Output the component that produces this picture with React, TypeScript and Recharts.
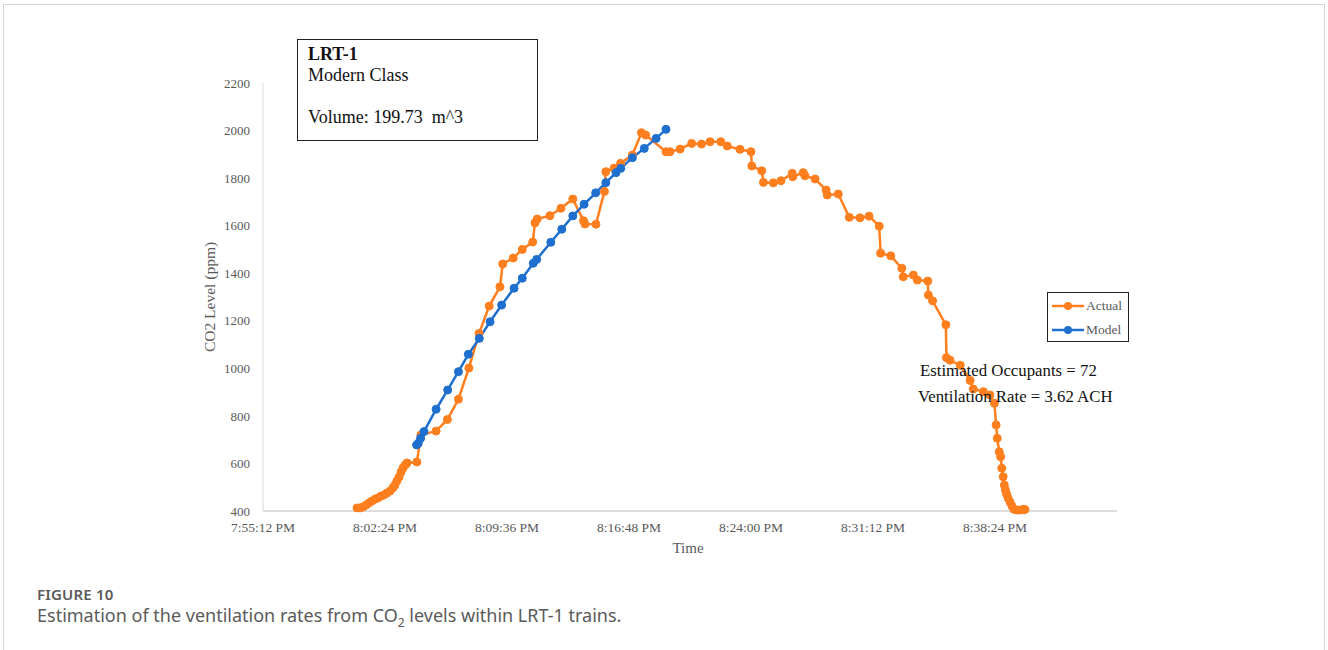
import { LineChart, Line, XAxis, YAxis } from "recharts";

// clock times (24h)
const actualTimes = [
  "20:00:45", "20:00:56", "20:01:06", "20:01:17", "20:01:27", "20:01:38", "20:01:49", "20:01:59",
  "20:02:10", "20:02:20", "20:02:31", "20:02:42", "20:02:52", "20:02:59", "20:03:06", "20:03:14",
  "20:03:21", "20:03:28", "20:03:35", "20:03:42", "20:04:17", "20:04:31", "20:05:25", "20:06:05",
  "20:06:44", "20:07:21", "20:07:57", "20:08:33", "20:09:11", "20:09:21", "20:09:58", "20:10:30",
  "20:11:07", "20:11:15", "20:11:23", "20:12:08", "20:12:47", "20:13:29", "20:14:07", "20:14:12",
  "20:14:51", "20:15:21", "20:15:26", "20:15:55", "20:16:18", "20:17:00", "20:17:32", "20:17:47",
  "20:18:59", "20:19:13", "20:19:49", "20:20:30", "20:21:05", "20:21:35", "20:22:13", "20:22:36",
  "20:23:21", "20:24:00", "20:24:03", "20:24:38", "20:24:44", "20:25:19", "20:25:46", "20:26:26",
  "20:26:28", "20:27:05", "20:27:11", "20:27:47", "20:28:26", "20:28:30", "20:29:09", "20:29:48",
  "20:30:26", "20:30:58", "20:31:34", "20:31:39", "20:32:15", "20:32:54", "20:32:59", "20:33:35",
  "20:33:49", "20:34:26", "20:34:28", "20:34:43", "20:35:30", "20:35:32", "20:35:45", "20:36:21",
  "20:36:56", "20:37:07", "20:37:43", "20:38:06", "20:38:22", "20:38:28", "20:38:32", "20:38:39",
  "20:38:44", "20:38:48", "20:38:53", "20:38:57", "20:39:01", "20:39:05", "20:39:10", "20:39:17",
  "20:39:24", "20:39:31", "20:39:42", "20:39:53", "20:40:03", "20:40:10",
];
const actualCO2 = [
  413, 413, 417, 425, 434, 442, 450, 455, 463, 467, 476, 484, 497, 509, 526, 543,
  564, 581, 593, 602, 606, 720, 736, 785, 870, 1001, 1147, 1262, 1343, 1439, 1464, 1500,
  1531, 1612, 1628, 1642, 1673, 1712, 1621, 1607, 1606, 1744, 1827, 1842, 1862, 1897, 1991, 1981,
  1911, 1911, 1922, 1946, 1943, 1953, 1953, 1935, 1921, 1911, 1851, 1831, 1782, 1780, 1789, 1820,
  1806, 1823, 1810, 1796, 1750, 1729, 1733, 1635, 1633, 1640, 1598, 1484, 1473, 1421, 1385, 1392,
  1371, 1367, 1308, 1284, 1183, 1045, 1034, 1013, 949, 913, 902, 888, 853, 762, 706, 649,
  628, 580, 544, 509, 488, 471, 455, 438, 421, 407, 404, 404, 406, 406,
];

const modelTimes = [
  "20:04:16", "20:04:22", "20:04:30", "20:04:42", "20:05:25", "20:06:06", "20:06:44", "20:07:19",
  "20:07:58", "20:08:36", "20:09:17", "20:10:01", "20:10:30", "20:11:09", "20:11:21", "20:12:11",
  "20:12:50", "20:13:29", "20:14:09", "20:14:50", "20:15:26", "20:16:02", "20:16:19", "20:17:00",
  "20:17:42", "20:18:24", "20:18:59",
];
const modelCO2 = [
  678, 685, 706, 734, 828, 909, 986, 1059, 1126, 1196, 1266, 1337, 1379, 1442, 1458, 1530,
  1585, 1641, 1690, 1738, 1781, 1823, 1841, 1886, 1925, 1967, 2005,
];

const yTicks = [400, 600, 800, 1000, 1200, 1400, 1600, 1800, 2000, 2200];
// 7:55:12 PM, then one tick every 7 min 12 s; axis runs to 8:45:36 PM (unlabelled)
const X_START = 19 * 3600 + 55 * 60 + 12;
const X_STEP = 432;
const X_END = X_START + 7 * X_STEP;
const xTicks = [0, 1, 2, 3, 4, 5, 6].map((i) => X_START + i * X_STEP);

const ORANGE = "#FF7F1F";
const BLUE = "#1F6FCF";
const SERIF = "'Liberation Serif', 'Times New Roman', serif";

const toSec = (s: string) => {
  const [h, m, sec] = s.split(":").map(Number);
  return h * 3600 + m * 60 + sec;
};

const fmtClock = (v: number) => {
  const h = Math.floor(v / 3600);
  const m = Math.floor((v % 3600) / 60);
  const s = Math.round(v % 60);
  const h12 = h % 12 === 0 ? 12 : h % 12;
  return `${h12}:${String(m).padStart(2, "0")}:${String(s).padStart(2, "0")} ${h >= 12 ? "PM" : "AM"}`;
};

const actualData = actualTimes.map((t, i) => ({ t: toSec(t), v: actualCO2[i] }));
const modelData = modelTimes.map((t, i) => ({ t: toSec(t), v: modelCO2[i] }));

function LegendBox() {
  const row = (label: string, color: string) => (
    <div style={{ display: "flex", alignItems: "center", height: 24 }}>
      <svg width={32} height={10}>
        <line x1={0} y1={5} x2={32} y2={5} stroke={color} strokeWidth={2.5} />
        <circle cx={16} cy={5} r={4} fill={color} />
      </svg>
      <span style={{ marginLeft: 2, fontSize: 13.5, color: "#595959" }}>{label}</span>
    </div>
  );
  return (
    <div
      style={{
        position: "absolute",
        left: 1047,
        top: 292,
        border: "1.5px solid #222",
        width: 82,
        height: 50,
        boxSizing: "border-box",
        padding: "1px 0 0 4px",
        fontFamily: SERIF,
        background: "#fff",
      }}
    >
      {row("Actual", ORANGE)}
      {row("Model", BLUE)}
    </div>
  );
}

export default function App() {
  return (
    <div style={{ position: "absolute", left: 0, top: 0, width: 1328, height: 650, background: "#fff", overflow: "hidden" }}>
      {/* figure frame */}
      <div
        style={{
          position: "absolute",
          left: 3,
          top: 4,
          width: 1320,
          height: 700,
          border: "1px solid #d4d4d4",
        }}
      />

      <LineChart
        width={1328}
        height={600}
        margin={{ top: 83, right: 211, bottom: 59, left: 203 }}
        style={{ position: "absolute", left: 0, top: 0 }}
      >
        <XAxis
          type="number"
          dataKey="t"
          domain={[X_START, X_END]}
          ticks={xTicks}
          tickFormatter={fmtClock}
          allowDataOverflow
          height={30}
          tickLine={false}
          tickMargin={5}
          axisLine={{ stroke: "#d0d0d0", strokeWidth: 1.5 }}
          tick={{ fontSize: 13.5, fill: "#595959", fontFamily: SERIF }}
        />
        <YAxis
          type="number"
          domain={[400, 2200]}
          ticks={yTicks}
          width={60}
          tickLine={false}
          tickMargin={7}
          axisLine={{ stroke: "#d9d9d9" }}
          tick={{ fontSize: 13, fill: "#595959", fontFamily: SERIF }}
        />
        <Line
          data={actualData}
          dataKey="v"
          name="Actual"
          stroke={ORANGE}
          strokeWidth={2.5}
          dot={{ r: 4, fill: ORANGE, stroke: ORANGE, strokeWidth: 1 }}
          isAnimationActive={false}
        />
        <Line
          data={modelData}
          dataKey="v"
          name="Model"
          stroke={BLUE}
          strokeWidth={2.5}
          dot={{ r: 4, fill: BLUE, stroke: BLUE, strokeWidth: 1 }}
          isAnimationActive={false}
        />
      </LineChart>

      <LegendBox />

      {/* axis titles */}
      <div
        style={{
          position: "absolute",
          left: 210,
          top: 297,
          transform: "translate(-50%, -50%) rotate(-90deg)",
          fontFamily: SERIF,
          fontSize: 15.5,
          color: "#595959",
          whiteSpace: "nowrap",
        }}
      >
        CO2 Level (ppm)
      </div>
      <div
        style={{
          position: "absolute",
          left: 688,
          top: 548,
          transform: "translate(-50%, -50%)",
          fontFamily: SERIF,
          fontSize: 15,
          color: "#595959",
        }}
      >
        Time
      </div>

      {/* info box */}
      <div
        style={{
          position: "absolute",
          left: 297,
          top: 39,
          width: 241,
          height: 102,
          boxSizing: "border-box",
          border: "1.5px solid #222",
          padding: "4px 0 0 10px",
          fontFamily: SERIF,
          fontSize: 18,
          lineHeight: "21px",
          color: "#111",
          background: "#fff",
        }}
      >
        <div style={{ fontWeight: "bold" }}>LRT-1</div>
        <div>Modern Class</div>
        <div>&nbsp;</div>
        <div style={{ whiteSpace: "pre" }}>Volume: 199.73  m^3</div>
      </div>

      {/* annotation */}
      <div
        style={{
          position: "absolute",
          left: 918,
          top: 358,
          fontFamily: SERIF,
          fontSize: 16.8,
          lineHeight: "26px",
          color: "#111",
          whiteSpace: "nowrap",
        }}
      >
        <div style={{ paddingLeft: 2 }}>Estimated Occupants = 72</div>
        <div>Ventilation Rate = 3.62 ACH</div>
      </div>

      {/* caption */}
      <div style={{ position: "absolute", left: 37, top: 584, fontFamily: "'Noto Sans', sans-serif", color: "#5a5a5a" }}>
        <div style={{ fontSize: 15, fontWeight: 600, letterSpacing: 0.2 }}>FIGURE 10</div>
        <div style={{ fontSize: 18, marginTop: -1 }}>
          Estimation of the ventilation rates from CO<sub style={{ fontSize: 12 }}>2</sub> levels within LRT-1 trains.
        </div>
      </div>
    </div>
  );
}
